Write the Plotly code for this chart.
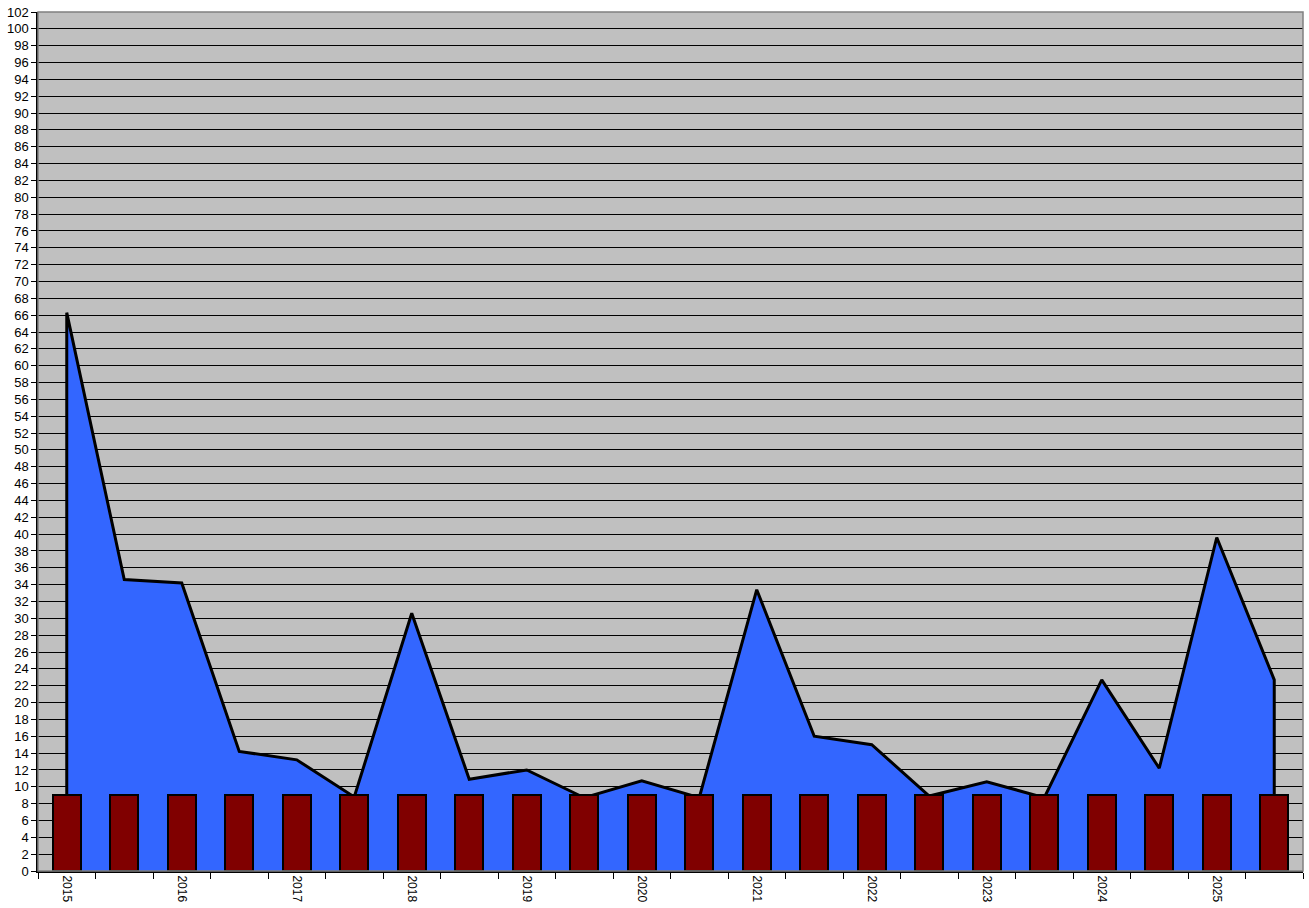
import plotly.graph_objects as go

# Category slots (two per year) and the two series
years = ["2015", "2016", "2017", "2018", "2019", "2020",
         "2021", "2022", "2023", "2024", "2025"]
area_values = [66.3, 34.6, 34.2, 14.2, 13.2, 8.8, 30.6, 10.9, 12.0, 8.7, 10.7,
               8.7, 33.4, 16.0, 15.0, 8.9, 10.6, 8.7, 22.7, 12.2, 39.6, 22.7]
bar_values = [9] * 22

n = len(area_values)
xs = list(range(n))

# Closed polygon for the area so its outline drops to zero at both ends
poly_x = [xs[0]] + xs + [xs[-1]]
poly_y = [0] + area_values + [0]

fig = go.Figure()
fig.add_trace(go.Scatter(
    x=poly_x, y=poly_y, mode="lines", fill="toself",
    fillcolor="#3366FF", line=dict(color="black", width=3),
    hoverinfo="skip", showlegend=False,
))
# Bars live on an overlaid pair of axes so they are painted above the area
fig.add_trace(go.Bar(
    x=xs, y=bar_values, width=0.49, xaxis="x2", yaxis="y2",
    marker=dict(color="#800000", line=dict(color="black", width=2)),
    showlegend=False,
))

x_range = [-0.5, n - 0.5]
y_range = [0, 102]

fig.update_layout(
    width=1309, height=908,
    margin=dict(l=38, r=6, t=12, b=37),
    paper_bgcolor="white", plot_bgcolor="#C0C0C0",
    font=dict(family="Liberation Sans, Arial, sans-serif", size=12, color="black"),
    bargap=0,
    shapes=[dict(type="rect", xref="paper", yref="paper", x0=0, y0=0, x1=1, y1=1,
                 line=dict(color="#808080", width=1.5), layer="above")],
    xaxis=dict(
        range=x_range,
        tickvals=list(range(0, n, 2)), ticktext=years, tickangle=90,
        ticks="", showgrid=False, zeroline=False,
        showline=True, linecolor="black", linewidth=2,
        minor=dict(tick0=-0.5, dtick=1, ticks="outside", ticklen=6,
                   tickcolor="black", showgrid=False),
        tickfont=dict(size=12),
    ),
    yaxis=dict(
        range=y_range, tick0=0, dtick=2,
        ticks="outside", ticklen=5, tickcolor="black",
        showgrid=True, gridcolor="black", gridwidth=1,
        zeroline=False, showline=True, linecolor="black", linewidth=1.5,
        tickfont=dict(size=13),
    ),
    xaxis2=dict(range=x_range, overlaying="x", visible=False),
    yaxis2=dict(range=y_range, overlaying="y", visible=False),
)

fig.write_html("out.html")
